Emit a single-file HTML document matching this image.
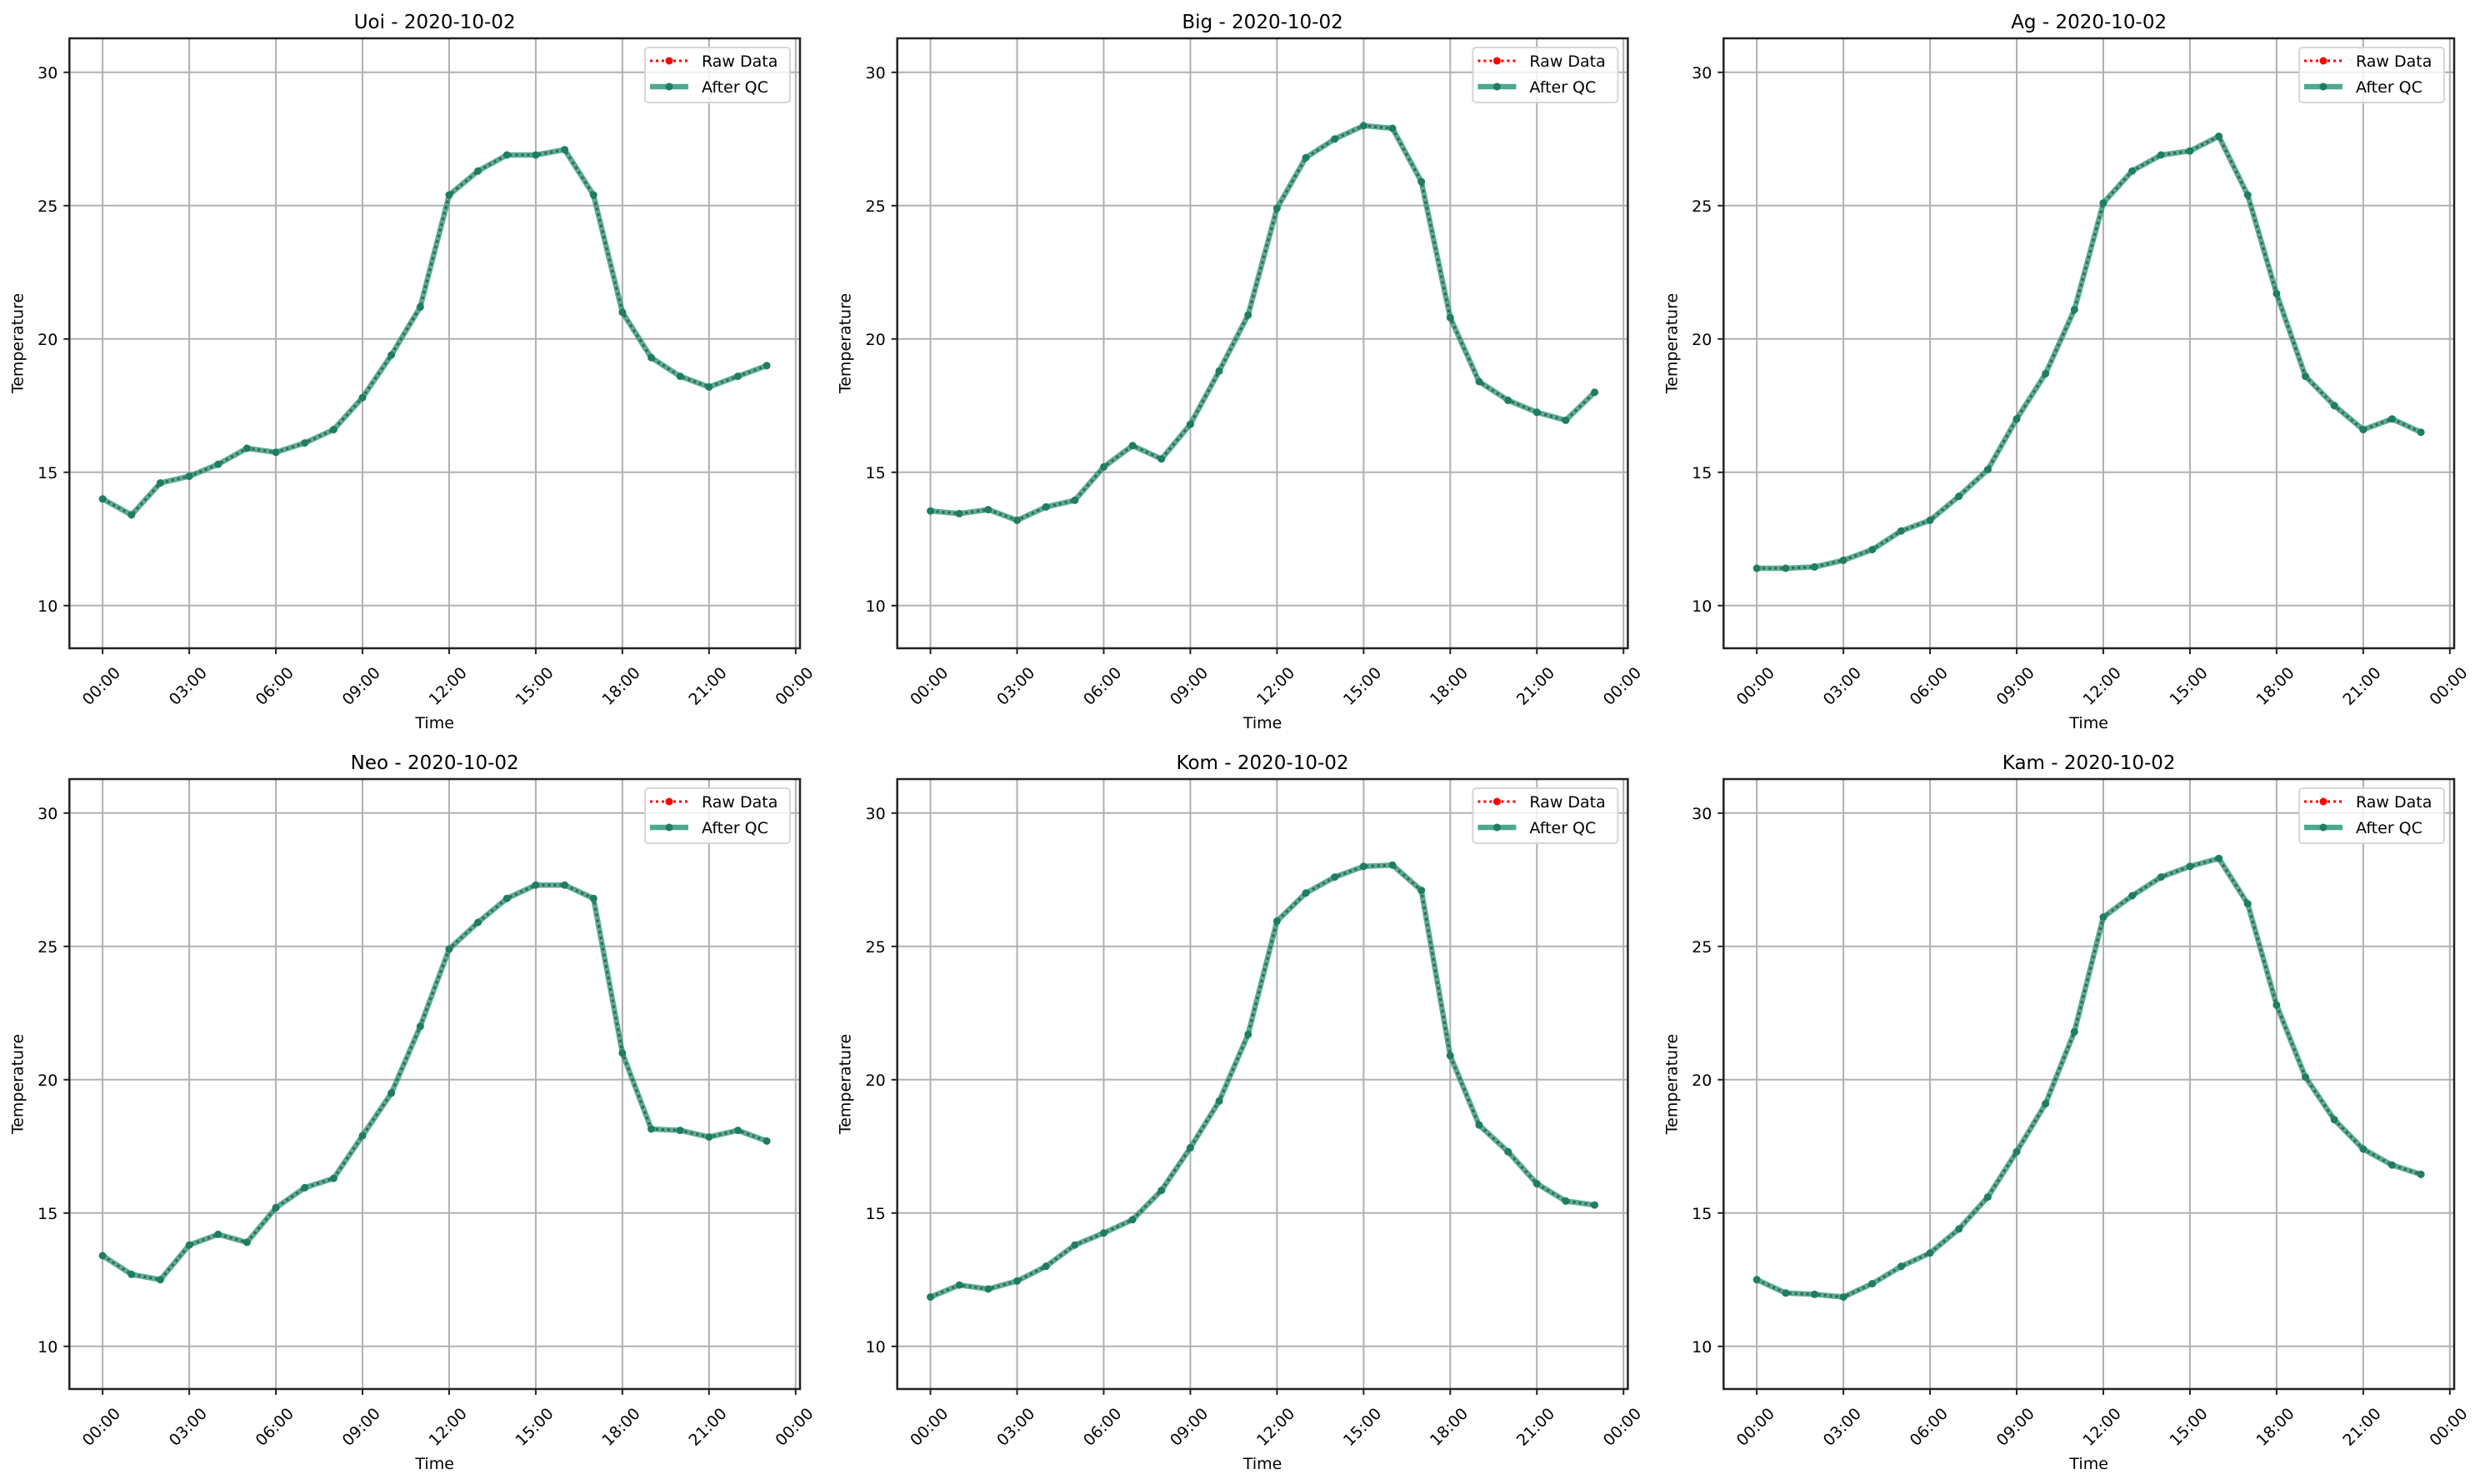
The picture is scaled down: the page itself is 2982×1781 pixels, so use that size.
<!DOCTYPE html>
<html><head><meta charset="utf-8"><style>
html,body{margin:0;padding:0;background:#fff;}
svg{display:block;font-family:"DejaVu Sans","Liberation Sans",sans-serif;}
</style></head><body>
<svg id="fig" width="2982" height="1781" viewBox="0 0 2982 1781" xmlns="http://www.w3.org/2000/svg"></svg>
<script>
const stations = ["Uoi","Big","Ag","Neo","Kom","Kam"];
const dateLabel = "2020-10-02";
const hours = [0,1,2,3,4,5,6,7,8,9,10,11,12,13,14,15,16,17,18,19,20,21,22,23];
const uoiTemps = [14.0,13.4,14.6,14.85,15.3,15.9,15.75,16.1,16.6,17.8,19.4,21.2,25.4,26.3,26.9,26.9,27.1,25.4,21.0,19.3,18.6,18.2,18.6,19.0];
const bigTemps = [13.55,13.45,13.6,13.2,13.7,13.95,15.2,16.0,15.5,16.8,18.8,20.9,24.9,26.8,27.5,28.0,27.9,25.9,20.8,18.4,17.7,17.25,16.95,18.0];
const agTemps = [11.4,11.4,11.45,11.7,12.1,12.8,13.2,14.1,15.1,17.0,18.7,21.1,25.1,26.3,26.9,27.05,27.6,25.4,21.7,18.6,17.5,16.6,17.0,16.5];
const neoTemps = [13.4,12.7,12.5,13.8,14.2,13.9,15.2,15.95,16.3,17.9,19.5,22.0,24.9,25.9,26.8,27.3,27.3,26.8,21.0,18.15,18.1,17.85,18.1,17.7];
const komTemps = [11.85,12.3,12.15,12.45,13.0,13.8,14.25,14.75,15.85,17.45,19.2,21.7,25.95,27.0,27.6,28.0,28.05,27.1,20.9,18.3,17.3,16.1,15.45,15.3];
const kamTemps = [12.5,12.0,11.95,11.85,12.35,13.0,13.5,14.4,15.6,17.3,19.1,21.8,26.1,26.9,27.6,28.0,28.3,26.6,22.8,20.1,18.5,17.4,16.8,16.45];
const yTicks = [10,15,20,25,30];
const xTicks = [0,3,6,9,12,15,18,21,24];
const xTickLabels = ["00:00","03:00","06:00","09:00","12:00","15:00","18:00","21:00","00:00"];
const allSeries = [uoiTemps,bigTemps,agTemps,neoTemps,komTemps,kamTemps];

const NS="http://www.w3.org/2000/svg";
const svg=document.getElementById('fig');
function mk(tag,attrs,parent){const e=document.createElementNS(NS,tag);for(const k in attrs)e.setAttribute(k,attrs[k]);(parent||svg).appendChild(e);return e;}

const lefts=[83.3,1076.7,2068.3], tops=[46,935], W=876.7, H=732;
const xMin=-1.15, xMax=24.15, yMin=8.4, yMax=31.275;

stations.forEach((name,i)=>{
  const L=lefts[i%3], T=tops[Math.floor(i/3)];
  const xs=v=>L+(v-xMin)/(xMax-xMin)*W;
  const ys=v=>T+H-(v-yMin)/(yMax-yMin)*H;
  const g=mk('g',{});
  
  
  xTicks.forEach((t,k)=>{
    const gl=mk('line',{x1:xs(t),x2:xs(t),y1:T,y2:T+H,stroke:'#b0b0b0','stroke-width':2},g);
    
    
    const tk=mk('line',{x1:xs(t),x2:xs(t),y1:T+H,y2:T+H+7,stroke:'#222','stroke-width':2},g);
    
    
    const cy=T+H+45, cx=xs(t)-2;
    const tl=mk('text',{x:cx,y:cy+7,'font-size':19,'text-anchor':'middle',fill:'#000',transform:`rotate(-45 ${cx} ${cy})`},g);
    tl.textContent=xTickLabels[k];
    
    
  });
  yTicks.forEach(t=>{
    const gl=mk('line',{x1:L,x2:L+W,y1:ys(t),y2:ys(t),stroke:'#b0b0b0','stroke-width':2},g);
    
    
    const tk=mk('line',{x1:L-7,x2:L,y1:ys(t),y2:ys(t),stroke:'#222','stroke-width':2},g);
    
    
    const tl=mk('text',{x:L-14,y:ys(t)+7,'font-size':19,'text-anchor':'end',fill:'#000'},g);
    tl.textContent=t;
    
    
  });
  const data=allSeries[i];
  const pts=hours.map((h,k)=>xs(h).toFixed(1)+','+ys(data[k]).toFixed(1)).join(' ');
  const raw=mk('polyline',{points:pts,fill:'none',stroke:'#ff0000','stroke-width':3,'stroke-dasharray':'3 4'},g);
  
  
  hours.forEach((h,k)=>{
    const c=mk('circle',{cx:xs(h),cy:ys(data[k]),r:3.5,fill:'#ff0000'},g);
    
    
  });
  const qc=mk('polyline',{points:pts,fill:'none',stroke:'#1f9473','stroke-opacity':0.75,'stroke-width':6.5,'stroke-linejoin':'round'},g);
  
  
  const dot=mk('polyline',{points:pts,fill:'none',stroke:'#3a5a50','stroke-opacity':0.7,'stroke-width':3,'stroke-dasharray':'3 4'},g);
  
  
  hours.forEach((h,k)=>{
    const c=mk('circle',{cx:xs(h),cy:ys(data[k]),r:4.5,fill:'#1e7d62'},g);
    
    
  });
  const fr=mk('rect',{x:L,y:T,width:W,height:H,fill:'none',stroke:'#222','stroke-width':2.5},g);
  
  
  const ti=mk('text',{x:L+W/2,y:T-12,'font-size':23,'text-anchor':'middle',fill:'#000'},g);
  ti.textContent=name+' - '+dateLabel;
  
  
  const xl=mk('text',{x:L+W/2,y:T+H+96,'font-size':19,'text-anchor':'middle',fill:'#000'},g);
  xl.textContent='Time';
  
  
  const yx=L-56, yy=T+H/2;
  const yl=mk('text',{x:yx,y:yy,'font-size':19,'text-anchor':'middle',fill:'#000',transform:`rotate(-90 ${yx} ${yy})`},g);
  yl.textContent='Temperature';
  
  
  const lg=mk('g',{},g);
  
  
  const bx=L+W-186, by=T+11;
  mk('rect',{x:bx,y:by,width:174,height:66,rx:4,fill:'#fff','fill-opacity':0.8,stroke:'#d6d6d6','stroke-width':2},lg);
  const r1=by+16, r2=by+47;
  mk('line',{x1:bx+6,x2:bx+52,y1:r1,y2:r1,stroke:'#ff0000','stroke-width':3,'stroke-dasharray':'3 4'},lg);
  mk('circle',{cx:bx+29,cy:r1,r:4.5,fill:'#ff0000'},lg);
  const t1=mk('text',{x:bx+68,y:r1+7,'font-size':19,fill:'#000'},lg);
  t1.textContent='Raw Data';
  
  
  mk('line',{x1:bx+6,x2:bx+52,y1:r2,y2:r2,stroke:'#1f9473','stroke-opacity':0.8,'stroke-width':6.5},lg);
  mk('circle',{cx:bx+29,cy:r2,r:4.5,fill:'#1e7d62'},lg);
  const t2=mk('text',{x:bx+68,y:r2+7,'font-size':19,fill:'#000'},lg);
  t2.textContent='After QC';
  
  
});
</script>
</body></html>
